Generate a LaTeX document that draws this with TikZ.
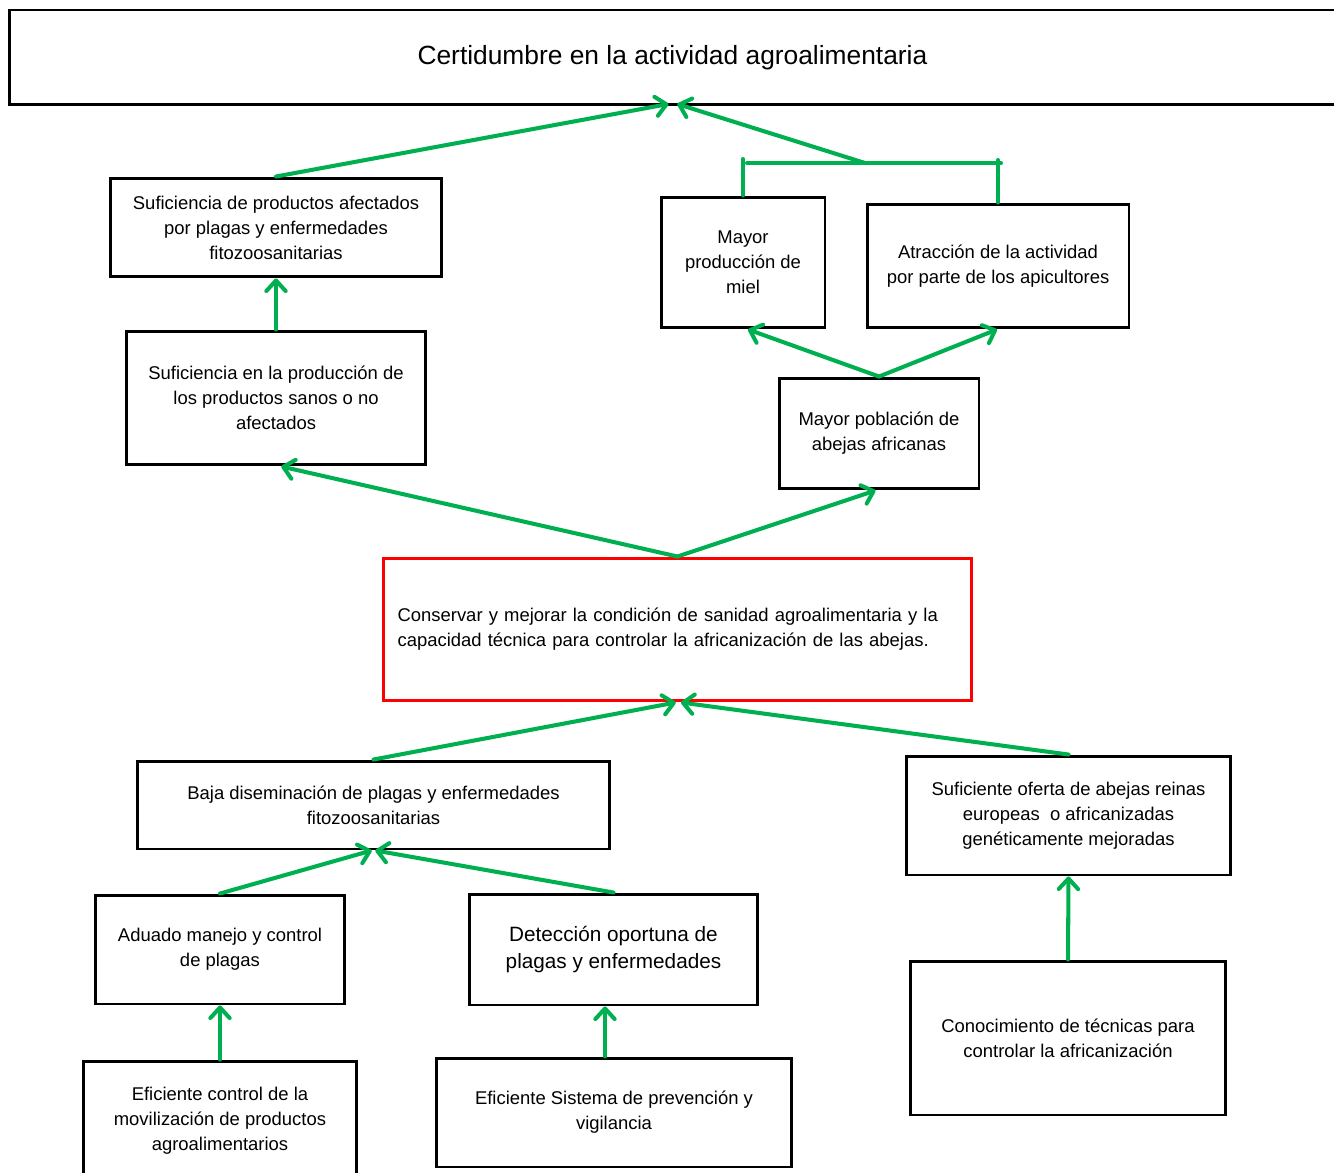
\documentclass[tikz,border=0pt]{standalone}
\usepackage{fontspec}
\setmainfont{Liberation Sans}
\usetikzlibrary{arrows.meta}
\definecolor{linkgreen}{HTML}{00B050}
\definecolor{focusred}{HTML}{FF0000}

\begin{document}
\begin{tikzpicture}[
    x=0.02cm, y=-0.02cm,
    box/.style={
      rectangle,
      draw=black,
      line width=1.7pt,
      inner sep=2pt,
      align=center,
      font=\fontsize{10.5}{14.2}\selectfont
    },
    bigbox/.style={
      box,
      font=\fontsize{11.8}{15.4}\selectfont
    },
    focus/.style={
      box,
      draw=focusred,
      align=left,
      text width=11.2cm
    },
    link/.style={
      draw=linkgreen,
      line width=2.3pt,
      line cap=round
    },
    arrow/.style={
      link,
      -{Straight Barb[length=6pt,width=11pt,round]}
    }
  ]

    \useasboundingbox (0,0) rectangle (1334,1172);

    % Goal
    \node[box, minimum width=26.66cm, minimum height=1.9cm,
      font=\fontsize{15}{18}\selectfont] (goal) at (675.5,57.5)
      {\hspace*{-3.5pt}Certidumbre en la actividad agroalimentaria};

    % Ends, left branch
    \node[box, minimum width=6.64cm, minimum height=1.98cm] (afectados) at (276,227.5)
      {Suficiencia de productos afectados\\por plagas y enfermedades\\fitozoosanitarias};
    \node[box, minimum width=6cm, minimum height=2.68cm] (sanos) at (276,398)
      {Suficiencia en la producción de\\los productos sanos o no\\afectados};

    % Ends, right branch
    \node[box, minimum width=3.28cm, minimum height=2.62cm] (miel) at (743,262.5)
      {Mayor\\producción de\\miel};
    \node[box, minimum width=5.24cm, minimum height=2.48cm] (atraccion) at (998,266)
      {Atracción de la actividad\\por parte de los apicultores};
    \node[box, minimum width=4cm, minimum height=2.22cm] (poblacion) at (879,433.5)
      {Mayor población de\\abejas africanas};

    % Objective
    \node[focus, minimum width=11.78cm, minimum height=2.86cm] (objetivo) at (677.5,629.5)
      {Conservar y mejorar la condición de sanidad agroalimentaria y la\\capacidad técnica para controlar la africanización de las abejas.};

    % Means, first level
    \node[box, minimum width=9.46cm, minimum height=1.76cm] (baja) at (373.5,805)
      {Baja diseminación de plagas y enfermedades\\fitozoosanitarias};
    \node[box, minimum width=6.5cm, minimum height=2.38cm] (oferta) at (1068.5,815.5)
      {Suficiente oferta de abejas reinas\\europeas\ \ o africanizadas\\genéticamente mejoradas};

    % Means, second level
    \node[box, minimum width=5cm, minimum height=2.18cm] (manejo) at (220,949.5)
      {Aduado manejo y control\\de plagas};
    \node[bigbox, minimum width=5.78cm, minimum height=2.22cm] (deteccion) at (613.5,949.5)
      {Detección oportuna de\\plagas y enfermedades};
    \node[box, minimum width=6.32cm, minimum height=3.08cm] (tecnicas) at (1068,1038)
      {Conocimiento de técnicas para\\controlar la africanización};

    % Means, third level
    \node[box, minimum width=5.48cm, minimum height=2.38cm] (movilizacion) at (220,1120.5)
      {Eficiente control de la\\movilización de productos\\agroalimentarios};
    \node[box, minimum width=7.12cm, minimum height=2.18cm] (vigilancia) at (614,1112.5)
      {Eficiente Sistema de prevención y\\vigilancia};

    % Bracket over miel and atraccion
    \coordinate (brkL) at (747,163);
    \coordinate (brkR) at (1001,163);
    \coordinate (hub) at (865,163);
    \coordinate (mielTop) at (743,159);
    \coordinate (atrTop) at (998,160);
    \coordinate (goalTip) at (672,104);
    \draw[link] (miel.north) -- (mielTop);
    \draw[link] (atraccion.north) -- (atrTop);
    \draw[link] (brkL) -- (brkR);

    % Connectors to the goal
    \draw[arrow] (afectados.north) -- ([xshift=-2]goalTip);
    \draw[arrow] (hub) -- ([xshift=3]goalTip);
    \draw[arrow] (sanos.north) -- (afectados.south);
    \draw[arrow] (poblacion.north) -- (miel.south-|748,0);
    \draw[arrow] (poblacion.north) -- (atraccion.south-|997,0);
    \draw[arrow] (objetivo.north) -- ([xshift=3]sanos.south);
    \draw[arrow] (objetivo.north) -- ([xshift=-2]poblacion.south);

    % Connectors from the means
    \draw[arrow] (baja.north) -- ([xshift=-1]objetivo.south);
    \draw[arrow] (oferta.north) -- ([xshift=2]objetivo.south);
    \draw[arrow] (manejo.north) -- ([xshift=-1]baja.south);
    \draw[arrow] (deteccion.north) -- ([xshift=1]baja.south);
    \draw[arrow] (tecnicas.north) -- (oferta.south);
    \draw[arrow] (movilizacion.north) -- (manejo.south);
    \draw[arrow] (vigilancia.north-|605,0) -- (deteccion.south-|605,0);

  \end{tikzpicture}
\end{document}
